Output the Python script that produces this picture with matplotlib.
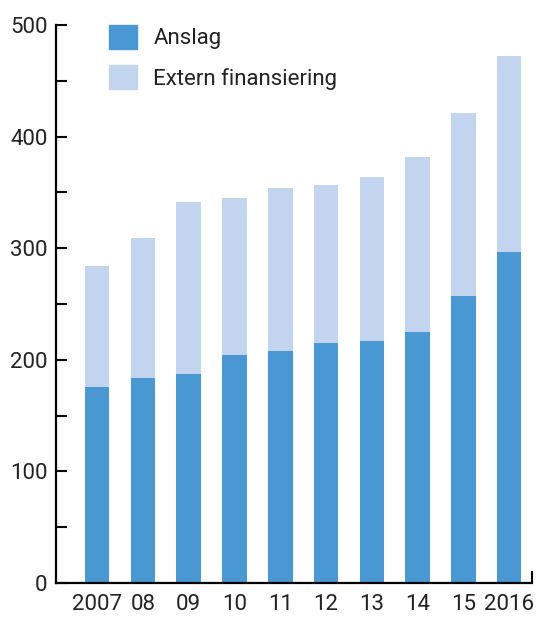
import matplotlib
matplotlib.use("Agg")
import matplotlib.pyplot as plt
from matplotlib.patches import Patch
from matplotlib.ticker import MultipleLocator, FixedLocator

plt.rcParams['font.family'] = ['Roboto', 'DejaVu Sans']

years = ["2007", "08", "09", "10", "11", "12", "13", "14", "15", "2016"]
anslag = [176, 184, 187, 204, 208, 215, 217, 225, 257, 297]
total = [284, 309, 341, 345, 354, 357, 364, 382, 421, 472]
extern = [t - a for t, a in zip(total, anslag)]

c_dark = "#4A98D3"
c_light = "#C3D4EF"
txt = "#222222"
fs = 16

fig = plt.figure(figsize=(5.37, 6.17), dpi=100)
ax = fig.add_axes([56/537, 34/617, (532-56)/537, (583-25)/617])

x = list(range(len(years)))
w = 0.535
ax.bar(x, anslag, width=w, color=c_dark, label="Anslag")
ax.bar(x, extern, width=w, bottom=anslag, color=c_light, label="Extern finansiering")

ax.set_xlim(-0.9, 9.5)
ax.set_ylim(0, 500)

for s in ["top", "right"]:
    ax.spines[s].set_visible(False)
for s in ["left", "bottom"]:
    ax.spines[s].set_linewidth(1.6)
    ax.spines[s].set_color("black")

ax.yaxis.set_major_locator(MultipleLocator(100))
ax.yaxis.set_minor_locator(MultipleLocator(50))
ax.tick_params(axis="y", which="both", direction="in", length=8, width=1.5,
               colors="black", labelcolor=txt, labelsize=fs, pad=6)
ax.set_xticks(x)
ax.set_xticklabels(years)
ax.tick_params(axis="x", which="major", length=0, labelsize=fs, labelcolor=txt, pad=8)
ax.xaxis.set_minor_locator(FixedLocator([9.5]))
ax.tick_params(axis="x", which="minor", direction="in", length=9, width=1.5, colors="black")

handles = [Patch(color=c_dark, label="Anslag"), Patch(color=c_light, label="Extern finansiering")]
leg = fig.legend(handles=handles, loc="upper left", bbox_to_anchor=(103/537, 1 - 19/617),
                 frameon=False, fontsize=fs, handlelength=1.3, handleheight=1.3,
                 labelspacing=0.72, handletextpad=0.72, borderaxespad=0, borderpad=0.25)
for t in leg.get_texts():
    t.set_color(txt)

fig.savefig("out.png", dpi=100)
